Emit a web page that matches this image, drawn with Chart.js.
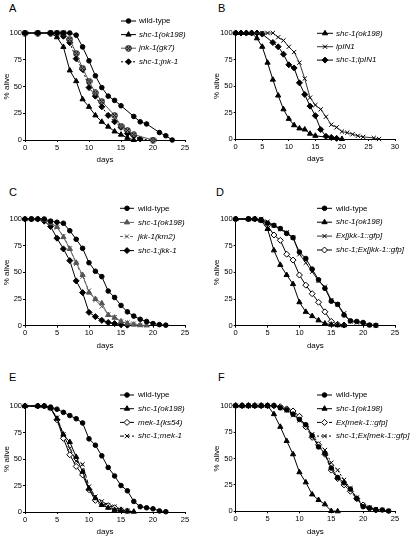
<!DOCTYPE html>
<html>
<head>
<meta charset="utf-8">
<script src="https://cdn.jsdelivr.net/npm/chart.js@4.4.0/dist/chart.umd.min.js"></script>
<style>
body{margin:0;background:#fff;width:417px;height:537px;overflow:hidden;position:relative;font-family:Arial,"Liberation Sans",sans-serif}
canvas{position:absolute;left:0;top:0}
.lt{position:absolute;font-size:11px;line-height:11px;color:#000}
</style>
</head>
<body>
<div class="lt" style="left:9px;top:3px">A</div>
<div class="lt" style="left:218px;top:3px">B</div>
<div class="lt" style="left:9px;top:187px">C</div>
<div class="lt" style="left:216px;top:187px">D</div>
<div class="lt" style="left:9px;top:372px">E</div>
<div class="lt" style="left:218px;top:372px">F</div>
<script>
// panel A
var aWildDays = [0,2,4,5,6,7,8,9,10,11,12,13,14,15,17,18,19,21,22,23];
var aWild = [100,100,100,100,100,100,98,87,74,60,49,41,37,32,22,17,15,7,4,0];
var aShcDays = [0,2,4,5,6,7,8,9,10,11,12,13,14,15,16,17];
var aShc = [100,100,100,96,87,65,55,38,31,23,17,12.5,8,5,2,0];
var aJnkDays = [0,2,4,5,6,7,8,9,10,11,12,14,15,16,17,20];
var aJnk = [100,100,100,100,100,94,81,67,55,44,36,23,13,9,5,0];
var aDblDays = [0,2,4,5,6,7,8,9,10,11,12,13,14,15,16,17,18,20];
var aDbl = [100,100,100,100,97,91,76,66,49,41,31,23,17,12,6,4,1,0];

// panel B
var bShcDays = [0,1,2,3,4,5,6,7,8,9,10,11,12,13,14,15,20];
var bShc = [100,100,100,100,95,87,72,56,41,28,19,13,10,9,5,3,0];
var bLpDays = [0,5,6,7,8,9,10,11,12,13,14,15,16,17,18,19,20,21,22,23,24,26,27];
var bLp = [100,100,100,100,96,93,87,82,72,57,39,32,28,21,13.5,11,7,6,4.5,3,2,1,0];
var bDblDays = [0,1,2,3,4,5,7,8,9,10,11,12,13,14,15,16,17,18,19];
var bDbl = [100,100,100,100,100,99,91,87,80,70,67,53,42,31,22,9,2.5,1.5,0.6];

// panel C
var cWildDays = [0,1,2,3,4,5,6,7,8,9,10,11,12,13,14,15,16,17,18,19,20,21,22];
var cWild = [100,100,100,100,98,97,96,89,81,72.5,59,51,46,32.5,26.5,19,13,9,6,4,2,1,0.5];
var cShcDays = [0,1,2,3,4,5,6,7,8,9,10,11,12,13,14,15,16,17,18,19];
var cShc = [100,100,100,99,96,92.5,83,72,59,47.5,31,25,21,10,7.5,4,2,1,0.5,0.3];
var cJkkDays = [0,1,2,3,4,5,6,7,8,9,10,11,12,13,14,15,16,17,18,19];
var cJkk = [100,100,100,100,97.5,92,84,72.5,58,46,33,24,18,10.6,8,4,3,2,0.5,0.5];
var cDblDays = [0,1,2,3,4,5,6,7,8,9,10,11,12,13,14,15,16];
var cDbl = [100,100,100,98,93,82,72,61,42,31,12.5,8.5,5,3,2,1,0.5];

// panel D
var dWildDays = [0,2,3,4,5,6,7,8,9,10,11,12,13,14,15,16,17,18,19,20,21,22];
var dWild = [100,100,100,99,96,94,91,86.5,82.5,69,63,53,43,35,23,20,10,4.5,4,3,0.6,0.3];
var dShcDays = [0,2,3,4,5,6,7,8,9,10,11,12,13,14,15,16,17];
var dShc = [100,100,100,98.5,90.6,70.6,57,47.5,39,22,13,9,5,2,1,0.5,0.3];
var dExDays = [0,2,3,4,5,6,7,8,9,10,11,12,13,14,15,16,17,18,19,20,21,22];
var dEx = [100,100,100,100,97.5,94,90.6,87.5,82.5,67,59,50.6,42,36.5,24,20,11.6,4,3,2,0.6,0.3];
var dDblDays = [0,2,3,4,5,6,7,8,9,10,11,12,13,14,15,16,17];
var dDbl = [100,100,100,99,94,85,80,67,61.5,47.5,38,30,22,13,4,1.3,0.6];

// panel E
var eWildDays = [0,2,3,4,5,6,7,8,9,10,11,12,13,14,15,16,17,18,19,20,21,22];
var eWild = [100,100,100,99,97,94,91,88,84,69,63,53,42,34,25,20,10,5,4,3,1,0.3];
var eShcDays = [0,2,3,4,5,6,7,8,9,10,11,12,13,14,15,16,17];
var eShc = [100,100,100,98,88,73,66,52,38,22,13,6.6,4,2,1.3,0.6,0.3];
var eMekDays = [0,2,3,4,5,6,7,8,9,10,11,12,13,14,15,16];
var eMek = [100,100,100,98,87,69.5,54,43,35,21,11,8,6,4,2,1];
var eDblDays = [0,2,3,4,5,6,7,8,9,10,11,12,13,14,15,16];
var eDbl = [100,100,100,98,89,73,60,48,45,24,14.5,10,6.6,5,2,1];

// panel F
var fWildDays = [0,1,2,3,4,5,6,7,8,9,10,11,12,13,14,15,16,17,18,19,20,21,22,23,24];
var fWild = [100,100,100,100,100,100,100,98,96,92,87,82,71.6,61,55,41,32,27,21,12,4.4,3,1.3,1.3,0.3];
var fShcDays = [0,1,2,3,4,5,6,7,8,9,10,11,12,13,14,15,16];
var fShc = [100,100,100,100,100,100,92,80,66.6,54,37,27.4,16,10.7,6.6,0.3,0];
var fExDays = [0,1,2,3,4,5,6,7,8,9,10,11,12,13,14,15,16,17,18,19,20,21,22];
var fEx = [100,100,100,100,100,100,100,99,97,95,90,80,70,63,54,39,31,25,19,12,6,3,1.3];
var fDblDays = [0,1,2,3,4,5,6,7,8,9,10,11,12,13,14,15,16,17,18,19,20,21,22,23,24];
var fDbl = [100,100,100,100,100,100,100,98,95.6,91,86,81,73,64,58,46,39,29.7,21.8,13,6,3.5,2,1.3,0.3];

var FONT = 'Arial, "Liberation Sans", sans-serif';

// gray circle with a cross, for jnk-1
var circX = document.createElement('canvas');
circX.width = 7; circX.height = 7;
(function () {
  var c = circX.getContext('2d');
  c.fillStyle = '#999'; c.strokeStyle = '#000'; c.lineWidth = 1;
  c.beginPath(); c.arc(3.5, 3.5, 2.8, 0, Math.PI * 2); c.fill(); c.stroke();
  c.beginPath(); c.moveTo(1.8, 1.8); c.lineTo(5.2, 5.2); c.moveTo(5.2, 1.8); c.lineTo(1.8, 5.2); c.stroke();
})();

var circle = {pointStyle: 'circle', pointRadius: 2.3};
var tri = {pointStyle: 'triangle', pointRadius: 3};
var cross = {pointStyle: 'crossRot', pointRadius: 3};
var diam = {pointStyle: 'rectRot', pointRadius: 3};
var diamOpen = {pointStyle: 'rectRot', pointRadius: 3, pointBackgroundColor: '#fff'};

function series(label, italic, days, vals, st, extra) {
  var ds = {
    label: label, italic: italic,
    data: days.map(function (d, i) { return {x: d, y: vals[i]}; }),
    borderColor: '#000', borderWidth: 1, tension: 0, clip: false,
    pointBackgroundColor: '#000', pointBorderColor: '#000', pointBorderWidth: 1
  };
  return Object.assign(ds, st, extra || {});
}

function makePanel(area, xMax, datasets, lg) {
  var cv = document.createElement('canvas');
  cv.width = 417; cv.height = 537;
  document.body.appendChild(cv);
  var tickFont = {family: FONT, size: 7.5};
  var legend = {
    id: 'panelLegend',
    afterDraw: function (chart) {
      var ctx = chart.ctx;
      ctx.save();
      chart.data.datasets.forEach(function (ds, i) {
        var y = lg.y + i * lg.gap;
        var x0 = lg.x0, x1 = lg.x1, tx = lg.tx;
        ctx.strokeStyle = ds.borderColor; ctx.lineWidth = 1;
        ctx.setLineDash(ds.borderDash || []);
        ctx.beginPath(); ctx.moveTo(x0, y); ctx.lineTo(x1, y); ctx.stroke();
        ctx.setLineDash([]);
        ctx.fillStyle = ds.pointBackgroundColor; ctx.strokeStyle = ds.pointBorderColor;
        Chart.helpers.drawPoint(ctx, {pointStyle: ds.pointStyle, radius: ds.pointRadius, rotation: 0, borderWidth: 1}, (x0 + x1) / 2, y);
        ctx.fillStyle = '#000';
        ctx.font = (ds.italic ? 'italic ' : '') + '8px ' + FONT;
        ctx.textBaseline = 'middle';
        ctx.fillText(ds.label, tx, y);
      });
      ctx.restore();
    }
  };
  return new Chart(cv, {
    type: 'line',
    data: {datasets: datasets},
    options: {
      responsive: false, animation: false, events: [],
      layout: {autoPadding: false, padding: {left: area[0] - 25, top: area[1], right: 417 - area[2], bottom: 537 - area[3] - 25}},
      plugins: {legend: {display: false}, tooltip: {enabled: false}},
      scales: {
        x: {
          type: 'linear', min: 0, max: xMax,
          afterFit: function (s) { s.height = 25; },
          ticks: {stepSize: 5, autoSkip: false, maxRotation: 0, font: tickFont, color: '#000', padding: 1},
          grid: {drawOnChartArea: false, tickLength: 2, tickColor: '#000'},
          border: {color: '#000'},
          title: {display: true, text: 'days', font: {family: FONT, size: 8}, color: '#000', padding: 0}
        },
        y: {
          min: 0, max: 100,
          afterFit: function (s) { s.width = 25; },
          ticks: {stepSize: 25, font: tickFont, color: '#000', padding: 1},
          grid: {drawOnChartArea: false, tickLength: 2, tickColor: '#000'},
          border: {color: '#000'},
          title: {display: true, text: '% alive', font: {family: FONT, size: 8}, color: '#000', padding: {top: 1.5, bottom: 0}}
        }
      }
    },
    plugins: [legend]
  });
}

makePanel([25, 33, 185, 140], 25, [
  series('wild-type', false, aWildDays, aWild, circle),
  series('shc-1(ok198)', true, aShcDays, aShc, tri),
  series('jnk-1(gk7)', true, aJnkDays, aJnk, {pointStyle: circX, pointRadius: 3}, {borderColor: '#555'}),
  series('shc-1;jnk-1', true, aDblDays, aDbl, diam, {borderDash: [2, 2]})
], {x0: 121, x1: 136, tx: 139, y: 21, gap: 13.6});

makePanel([235.7, 33, 395, 139], 30, [
  series('shc-1(ok198)', true, bShcDays, bShc, tri),
  series('lpIN1', true, bLpDays, bLp, cross, {borderColor: '#333'}),
  series('shc-1;lpIN1', true, bDblDays, bDbl, diam)
], {x0: 317, x1: 333, tx: 336, y: 33.3, gap: 13.4});

makePanel([25, 219, 185, 325.7], 25, [
  series('wild-type', false, cWildDays, cWild, circle),
  series('shc-1(ok198)', true, cShcDays, cShc, tri, {borderColor: '#666', pointBackgroundColor: '#555', pointBorderColor: '#555'}),
  series('jkk-1(km2)', true, cJkkDays, cJkk, cross, {borderColor: '#666', pointBorderColor: '#555', borderDash: [3, 2]}),
  series('shc-1;jkk-1', true, cDblDays, cDbl, diam)
], {x0: 120, x1: 134, tx: 138, y: 208.3, gap: 14.1});

makePanel([235.7, 219, 395, 325.7], 25, [
  series('wild-type', false, dWildDays, dWild, circle),
  series('shc-1(ok198)', true, dShcDays, dShc, tri),
  series('Ex[jkk-1::gfp]', true, dExDays, dEx, cross, {borderColor: '#333'}),
  series('shc-1;Ex[jkk-1::gfp]', true, dDblDays, dDbl, diamOpen)
], {x0: 317, x1: 332, tx: 336, y: 208.3, gap: 13.9});

makePanel([25, 406, 185, 512], 25, [
  series('wild-type', false, eWildDays, eWild, circle),
  series('shc-1(ok198)', true, eShcDays, eShc, tri),
  series('mek-1(ks54)', true, eMekDays, eMek, diamOpen),
  series('shc-1;mek-1', true, eDblDays, eDbl, cross, {borderDash: [4, 2]})
], {x0: 120, x1: 134, tx: 138, y: 395, gap: 13.7});

makePanel([235.7, 405.7, 395, 511.3], 25, [
  series('wild-type', false, fWildDays, fWild, circle),
  series('shc-1(ok198)', true, fShcDays, fShc, tri),
  series('Ex[mek-1::gfp]', true, fExDays, fEx, diamOpen, {borderDash: [4, 2]}),
  series('shc-1;Ex[mek-1::gfp]', true, fDblDays, fDbl, cross, {borderDash: [2, 2]})
], {x0: 317, x1: 332, tx: 336, y: 395, gap: 13.7});
</script>
</body>
</html>
